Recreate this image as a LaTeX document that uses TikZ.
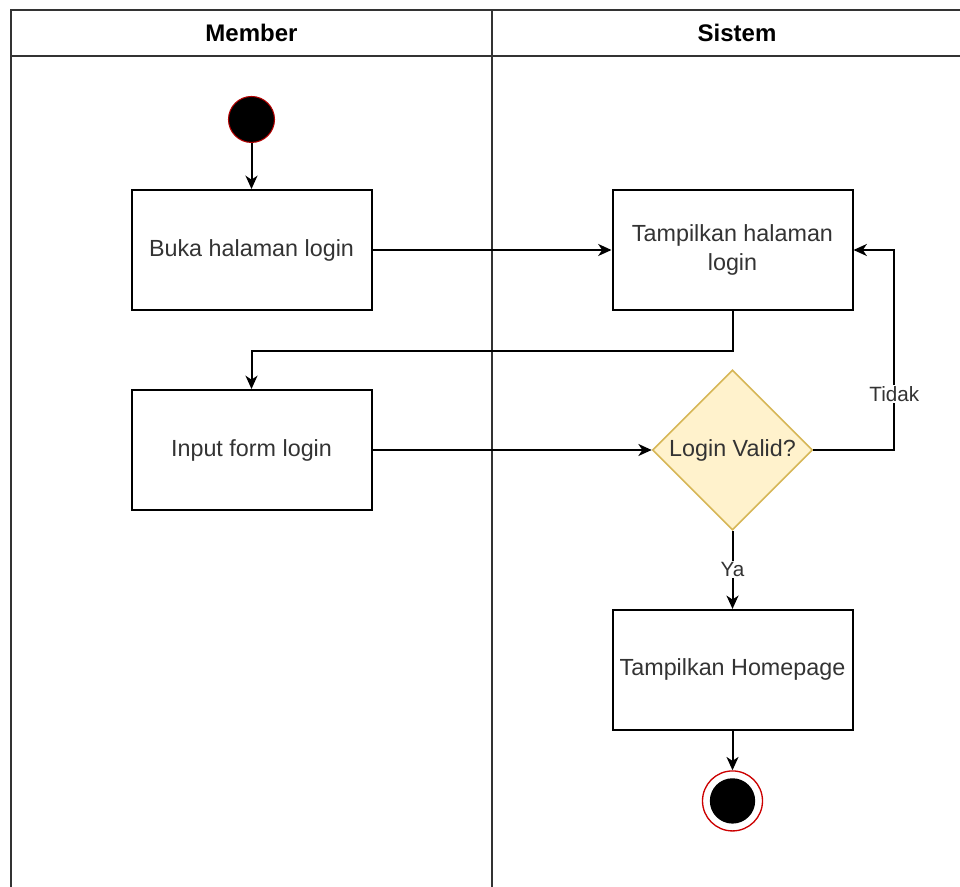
\documentclass[tikz,border=0pt]{standalone}
\usepackage{fontspec}
\setmainfont{Liberation Sans}
\usetikzlibrary{positioning, arrows.meta, shapes.geometric}
\definecolor{lanegray}{HTML}{333333}
\definecolor{decfill}{HTML}{FFF2CC}
\definecolor{decdraw}{HTML}{D6B656}
\tikzset{
    activity/.style={draw, line width=1.5pt, minimum width=180pt, minimum height=90pt, inner sep=1pt, align=center, text=black!80, font=\fontsize{17.5}{22}\selectfont},
    decision/.style={diamond, draw=decdraw, fill=decfill, line width=1.2pt, minimum width=120pt, minimum height=120pt, inner sep=0pt, text=black!80, font=\fontsize{17.5}{22}\selectfont},
    startstate/.style={circle, draw=red!70!black, fill=black, line width=0.8pt, minimum size=34.5pt, inner sep=0pt},
    endstate/.style={circle, draw=red!80!black, fill=white, line width=1pt, minimum size=45pt, inner sep=0pt, path picture={\fill[black] (path picture bounding box.center) circle (17pt);}},
    flow/.style={line width=1.5pt, -{Stealth[length=10pt, width=9pt, inset=3pt]}},
    guard/.style={fill=white, text=black!80, font=\fontsize{15.5}{18}\selectfont, inner sep=1pt},
    lane/.style={line width=1.5pt, lanegray},
    lanehead/.style={font=\bfseries\fontsize{18}{22}\selectfont}
}

\begin{document}
\begin{tikzpicture}[x=0.75pt, y=-0.75pt]
    \useasboundingbox (0,0) rectangle (960,887);
    % Swimlanes
    \draw [lane] (960,10) -- (11,10) -- (11,887);
    \draw [lane] (11,56) -- (960,56);
    \draw [lane] (492,10) -- (492,887);
    \node (memberhead) [lanehead] at (251.5,33) {Member};
    \node (sistemhead) [lanehead] at (737,33) {Sistem};
    % Activities
    \node (buka) [activity] at (251.5,250) {Buka halaman login};
    \node (start) [startstate, above=34.5pt of buka] {};
    \node (tampil) [activity, right=179.25pt of buka] {Tampilkan halaman\\login};
    \node (input) [activity, below=58.5pt of buka] {Input form login};
    \node (valid) [decision] at (tampil |- input) {Login Valid?};
    \node (homepage) [activity, below=58.6pt of valid] {Tampilkan Homepage};
    \node (finish) [endstate, below=29.5pt of homepage] {};
    % Flows
    \draw [flow] (start) -- (buka);
    \draw [flow] (buka) -- (tampil);
    \draw [flow] (tampil.south) -- ++(0,40) -| (input.north);
    \draw [flow] (input) -- (valid);
    \draw [flow] (valid.east) -- ++(81,0) |- node [guard, pos=0.14] {Tidak} (tampil.east);
    \draw [flow] (valid) -- node [guard] {Ya} (homepage);
    \draw [flow] (homepage) -- (finish);
\end{tikzpicture}
\end{document}
